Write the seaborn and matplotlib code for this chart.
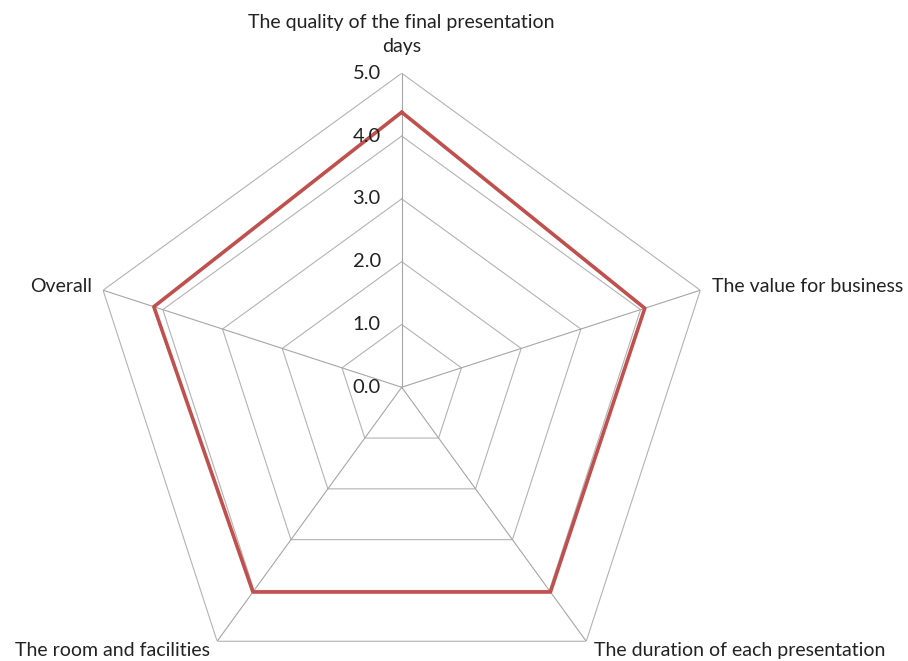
import numpy as np
import pandas as pd
import matplotlib
matplotlib.use("Agg")
import matplotlib.pyplot as plt
import seaborn as sns

# Data
categories = [
    "The quality of the final presentation\ndays",
    "The value for business",
    "The duration of each presentation",
    "The room and facilities",
    "Overall",
]
scores = [4.38, 4.07, 4.03, 4.03, 4.15]
scale_ticks = [0.0, 1.0, 2.0, 3.0, 4.0, 5.0]

sns.set_theme(style="white")
plt.rcParams["font.family"] = ["Lato", "DejaVu Sans"]

n = len(categories)
angles = np.linspace(0, 2 * np.pi, n, endpoint=False)

df = pd.DataFrame({
    "theta": np.append(angles, angles[0]),
    "score": scores + scores[:1],
})

fig = plt.figure(figsize=(9.08, 6.61), dpi=100)
ax = fig.add_axes([0.0966, -0.0609, 0.6916, 0.9501], projection="polar")
ax.set_theta_offset(np.pi / 2)
ax.set_theta_direction(-1)
ax.set_ylim(0, 5)
ax.grid(False)
ax.spines["polar"].set_visible(False)
ax.set_xticks([])
ax.set_yticks([])
ax.set_facecolor("none")

# Pentagon rings
ring_theta = np.append(angles, angles[0])
for r in scale_ticks[1:]:
    ax.plot(ring_theta, [r] * (n + 1), color="#b3b3b3", lw=0.8, zorder=1)
# Spokes
for a in angles:
    ax.plot([a, a], [0, 5], color="#a6a6a6", lw=0.8, zorder=1)

# Series (closed polygon, no aggregation)
sns.lineplot(data=df, x="theta", y="score", sort=False, estimator=None, ax=ax,
             color="#c0504d", lw=2.6, zorder=3)
ax.set_xlabel("")
ax.set_ylabel("")
ax.set_ylim(0, 5)

# Scale labels
for r in scale_ticks:
    ax.annotate(f"{r:.1f}", xy=(0, r), xytext=(-15, 0), textcoords="offset points",
                ha="right", va="center", fontsize=14.5, color="#222222")

# Category labels
offsets = [(0, 13), (8.5, 3), (5.5, -6.5), (-5.5, -6.5), (-8, 3)]
aligns = [("center", "bottom"), ("left", "center"), ("left", "center"),
          ("right", "center"), ("right", "center")]
for a, lab, off, (ha, va) in zip(angles, categories, offsets, aligns):
    ax.annotate(lab, xy=(a, 5), xytext=off, textcoords="offset points",
                ha=ha, va=va, fontsize=14, color="#222222",
                linespacing=1.55, annotation_clip=False)

fig.savefig("out.png", dpi=100)
